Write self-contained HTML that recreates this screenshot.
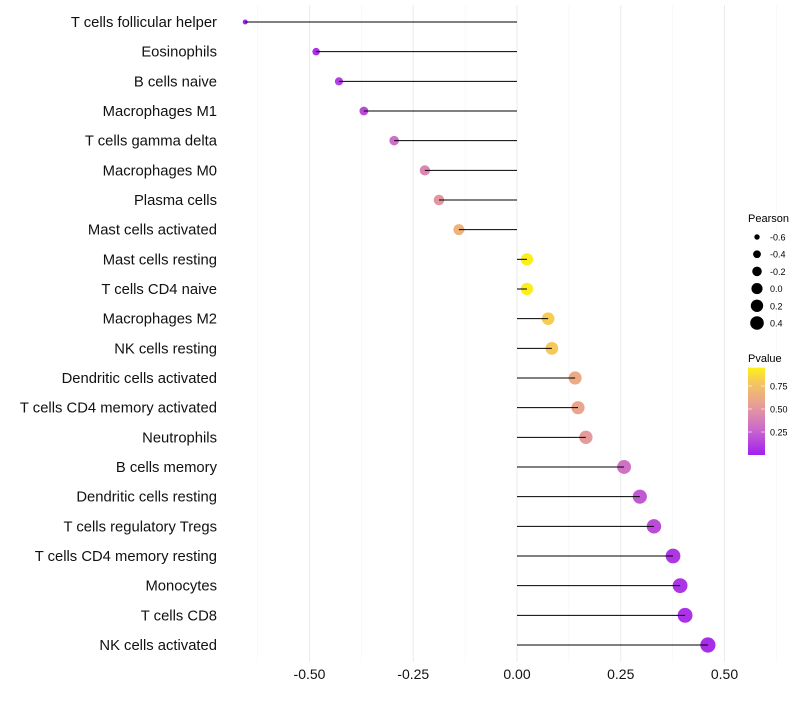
<!DOCTYPE html>
<html><head><meta charset="utf-8"><style>
body{margin:0;background:#fff;font-family:"Liberation Sans",sans-serif;}
svg text{font-family:"Liberation Sans",sans-serif;}
</style></head><body>
<svg id="chart" width="800" height="700"></svg>
<script>
const categories=["T cells follicular helper","Eosinophils","B cells naive","Macrophages M1","T cells gamma delta","Macrophages M0","Plasma cells","Mast cells activated","Mast cells resting","T cells CD4 naive","Macrophages M2","NK cells resting","Dendritic cells activated","T cells CD4 memory activated","Neutrophils","B cells memory","Dendritic cells resting","T cells regulatory  Tregs ","T cells CD4 memory resting","Monocytes","T cells CD8","NK cells activated"];
const pearson=[-0.655,-0.484,-0.429,-0.369,-0.296,-0.222,-0.188,-0.140,0.024,0.024,0.075,0.084,0.140,0.147,0.166,0.258,0.296,0.330,0.376,0.393,0.405,0.460];
const pvalue=[0.02,0.06,0.12,0.16,0.30,0.42,0.50,0.66,0.94,0.94,0.82,0.80,0.62,0.58,0.52,0.32,0.22,0.17,0.09,0.08,0.07,0.05];
const xTicks=[-0.5,-0.25,0,0.25,0.5];
const xTickLabels=["-0.50","-0.25","0.00","0.25","0.50"];
const sizeLegend=[-0.6,-0.4,-0.2,0.0,0.2,0.4];
const sizeLegendLabels=["-0.6","-0.4","-0.2","0.0","0.2","0.4"];
const pLegendTicks=[0.25,0.5,0.75];
const pLegendLabels=["0.25","0.50","0.75"];

const NS="http://www.w3.org/2000/svg";
const svg=document.getElementById('chart');
function mk(t,a,p){const e=document.createElementNS(NS,t);for(const k in a)e.setAttribute(k,a[k]);(p||svg).appendChild(e);return e;}
const x=v=>517+v*415;
const y=i=>22+i*(623/21);
const r=v=>1.18*Math.sqrt(Math.max(2,26.3+33.4*v));
const rl=v=>Math.sqrt(Math.max(2,26.3+33.4*v));
const stops=[[0,[160,32,240]],[0.3,[205,110,200]],[0.55,[232,160,150]],[0.8,[245,200,90]],[1,[255,255,0]]];
function col(p){for(let i=1;i<stops.length;i++){if(p<=stops[i][0]){const a=stops[i-1],b=stops[i];const t=(p-a[0])/(b[0]-a[0]);const c=a[1].map((v,j)=>Math.round(v+(b[1][j]-v)*t));return `rgb(${c})`;}}return 'rgb(255,255,0)';}

const minor=[-0.625,-0.375,-0.125,0.125,0.375,0.625];
minor.forEach(v=>{const g=mk('line',{x1:x(v),x2:x(v),y1:5,y2:662,stroke:'#f5f5f5','stroke-width':0.6});

});
xTicks.forEach((v,i)=>{const g=mk('line',{x1:x(v),x2:x(v),y1:5,y2:662,stroke:'#ebebeb','stroke-width':1});


const t=mk('text',{x:x(v),y:679,'text-anchor':'middle','font-size':14,fill:'#111'});t.textContent=xTickLabels[i];

});
categories.forEach((c,i)=>{
const t=mk('text',{x:217,y:y(i)+5,'text-anchor':'end','font-size':14.8,fill:'#111'});t.textContent=c;


const d=mk('circle',{cx:x(pearson[i]),cy:y(i),r:r(pearson[i]),fill:col(pvalue[i])});


const l=mk('line',{x1:x(0),x2:x(pearson[i]),y1:y(i),y2:y(i),stroke:'#000','stroke-width':1});


});
const st=mk('text',{x:748,y:222,'font-size':11,fill:'#000'});st.textContent='Pearson';


sizeLegend.forEach((v,i)=>{const cy=237+i*17.2;
const c=mk('circle',{cx:757,cy:cy,r:rl(v)*1.08,fill:'#000'});


const t=mk('text',{x:770,y:cy+3.5,'font-size':9,fill:'#000'});t.textContent=sizeLegendLabels[i];

});
const ct=mk('text',{x:748,y:362,'font-size':11,fill:'#000'});ct.textContent='Pvalue';


const defs=mk('defs',{});const lg=mk('linearGradient',{id:'pg',x1:0,y1:1,x2:0,y2:0},defs);
for(let k=0;k<=10;k++){mk('stop',{offset:k/10,'stop-color':col(k/10*0.95)},lg);}
const py=v=>455-v*92;
const bar=mk('rect',{x:748,y:py(0.95),width:17,height:py(0)-py(0.95),fill:'url(#pg)'});


pLegendTicks.forEach((v,i)=>{mk('line',{x1:748,x2:752,y1:py(v),y2:py(v),stroke:'#fff','stroke-width':0.6});mk('line',{x1:761,x2:765,y1:py(v),y2:py(v),stroke:'#fff','stroke-width':0.6});
const t=mk('text',{x:770,y:py(v)+3.5,'font-size':9,fill:'#000'});t.textContent=pLegendLabels[i];

});
</script>
</body></html>
